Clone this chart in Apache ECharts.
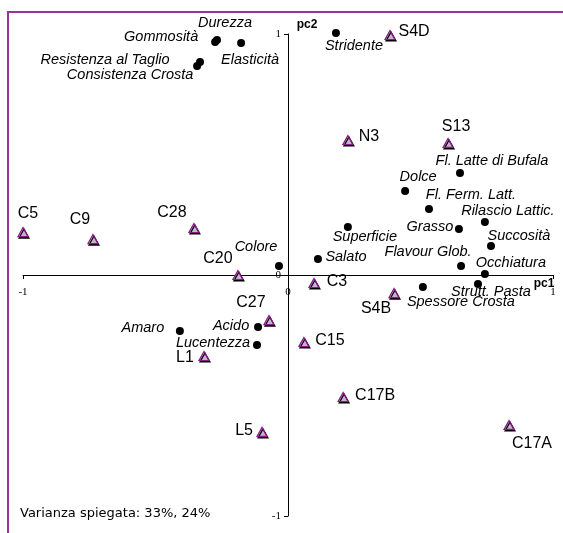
<!DOCTYPE html>
<html>
<head>
<meta charset="utf-8">
<script src="https://cdn.jsdelivr.net/npm/echarts@6/dist/echarts.min.js"></script>
<style>
html,body{margin:0;padding:0;background:#fff;}
#chart{width:563px;height:533px;}
</style>
</head>
<body>
<div id="chart"></div>
<script>
// ---- Data (PCA loadings / scores) ----
const varNames = ['Durezza','Gommosità','Elasticità','Resistenza al Taglio','Consistenza Crosta','Stridente',
  'Fl. Latte di Bufala','Dolce','Fl. Ferm. Latt.','Rilascio Lattic.','Grasso','Superficie','Succosità',
  'Salato','Flavour Glob.','Occhiatura','Strutt. Pasta','Spessore Crosta','Colore','Acido','Amaro','Lucentezza'];
const varX = [-0.268,-0.275,-0.177,-0.332,-0.343,0.181,0.649,0.442,0.532,0.743,0.645,0.226,0.766,
  0.113,0.653,0.743,0.717,0.509,-0.034,-0.113,-0.408,-0.117];
const varY = [0.975,0.967,0.963,0.884,0.867,1.004,0.423,0.349,0.274,0.220,0.191,0.199,0.120,
  0.066,0.037,0.004,-0.037,-0.050,0.037,-0.216,-0.232,-0.290];

const sampleNames = ['S4D','N3','S13','C5','C9','C28','C20','C27','C3','S4B','C15','L1','C17B','L5','C17A'];
const sampleX = [0.385,0.226,0.604,-1.0,-0.736,-0.355,-0.189,-0.072,0.098,0.400,0.060,-0.317,0.208,-0.098,0.834];
const sampleY = [0.996,0.560,0.548,0.178,0.149,0.195,0.0,-0.187,-0.033,-0.075,-0.278,-0.336,-0.506,-0.651,-0.622];

const axisTicks = [-1, 0, 1];
const axisNames = ['pc1', 'pc2'];
const note = 'Varianza spiegata: 33%, 24%';

// ---- Label placement (style only: pixel offset of label centre from its mark) ----
const labelOffsets = {
  'Durezza':[8,-17], 'Gommosità':[-54,-5], 'Elasticità':[9,17], 'Resistenza al Taglio':[-95,-2],
  'Consistenza Crosta':[-67,9], 'Stridente':[18,13], 'Fl. Latte di Bufala':[32,-12], 'Dolce':[13,-14],
  'Fl. Ferm. Latt.':[42,-14], 'Rilascio Lattic.':[23,-11], 'Grasso':[-29,-2], 'Superficie':[17,10],
  'Succosità':[28,-10], 'Salato':[28,-2], 'Flavour Glob.':[-33,-14], 'Occhiatura':[26,-11],
  'Strutt. Pasta':[13,8], 'Spessore Crosta':[38,15], 'Colore':[-23,-19], 'Acido':[-27,-1],
  'Amaro':[-37,-3], 'Lucentezza':[-44,-2],
  'S4D':[24,-3], 'N3':[21,-3], 'S13':[8,-16], 'C5':[5,-19], 'C9':[-13,-19], 'C28':[-22,-15],
  'C20':[-20,-16], 'C27':[-18,-17], 'C3':[23,-1], 'S4B':[-18,16], 'C15':[26,-1], 'L1':[-19,2],
  'C17B':[32,-1], 'L5':[-18,-1], 'C17A':[23,19]
};

const varData = varNames.map((n,i)=>({name:n, value:[varX[i],varY[i]], label:{offset:labelOffsets[n]||[0,0]}}));
const sampleData = sampleNames.map((n,i)=>({name:n, value:[sampleX[i],sampleY[i]], label:{offset:labelOffsets[n]||[0,0]}}));

const GRID = {left:23, top:34, width:530, height:482};
const chart = echarts.init(document.getElementById('chart'), null, {renderer:'canvas'});
const tickFont = {fontFamily:'Liberation Serif', fontSize:11, color:'#000'};
const nameFont = 'bold 12px "Liberation Sans"';

chart.setOption({
  animation:false,
  backgroundColor:'#fff',
  grid:Object.assign({outerBoundsMode:'none', containLabel:false}, GRID),
  xAxis:{
    type:'value', min:axisTicks[0], max:axisTicks[2], interval:1,
    position:'bottom', offset:-GRID.height/2,
    axisLine:{onZero:false, lineStyle:{color:'#000', width:1}},
    axisTick:{show:true, length:4, lineStyle:{color:'#000'}},
    splitLine:{show:false},
    axisLabel:Object.assign({margin:12, formatter:v=>String(v)}, tickFont)
  },
  yAxis:{
    type:'value', min:axisTicks[0], max:axisTicks[2], interval:1,
    position:'left', offset:-GRID.width/2,
    axisLine:{onZero:false, lineStyle:{color:'#000', width:1}},
    axisTick:{show:true, length:4, lineStyle:{color:'#000'}},
    splitLine:{show:false},
    axisLabel:Object.assign({margin:7, formatter:v=>String(v)}, tickFont)
  },
  series:[
    {
      type:'scatter', name:'variabili', data:varData, clip:false,
      symbol:'circle', symbolSize:8,
      itemStyle:{color:'#000', opacity:1},
      label:{show:true, position:'inside', formatter:'{b}', fontFamily:'Liberation Sans', fontStyle:'italic', fontSize:14.5, color:'#000'},
      z:3
    },
    {
      type:'scatter', name:'campioni', data:sampleData, clip:false,
      symbol:'triangle', symbolSize:[10,9],
      itemStyle:{color:'#c6b3cd', borderColor:'#8b1a8b', borderWidth:1.2, opacity:1, shadowColor:'#000', shadowBlur:0, shadowOffsetX:1, shadowOffsetY:1.5},
      label:{show:true, position:'inside', formatter:'{b}', fontFamily:'Liberation Sans', fontSize:16, color:'#000'},
      z:4
    }
  ],
  graphic:[
    {type:'rect', shape:{x:8, y:12, width:800, height:800}, style:{fill:null, stroke:'#993399', lineWidth:2}, silent:true, z:0},
    {type:'text', left:20, top:507, style:{text:note, font:'13px "DejaVu Sans"', fill:'#000'}},
    {type:'text', x:544, y:284, style:{text:axisNames[0], font:nameFont, fill:'#000', align:'center', verticalAlign:'middle'}},
    {type:'text', x:307, y:25, style:{text:axisNames[1], font:nameFont, fill:'#000', align:'center', verticalAlign:'middle'}}
  ]
});
</script>
</body>
</html>
